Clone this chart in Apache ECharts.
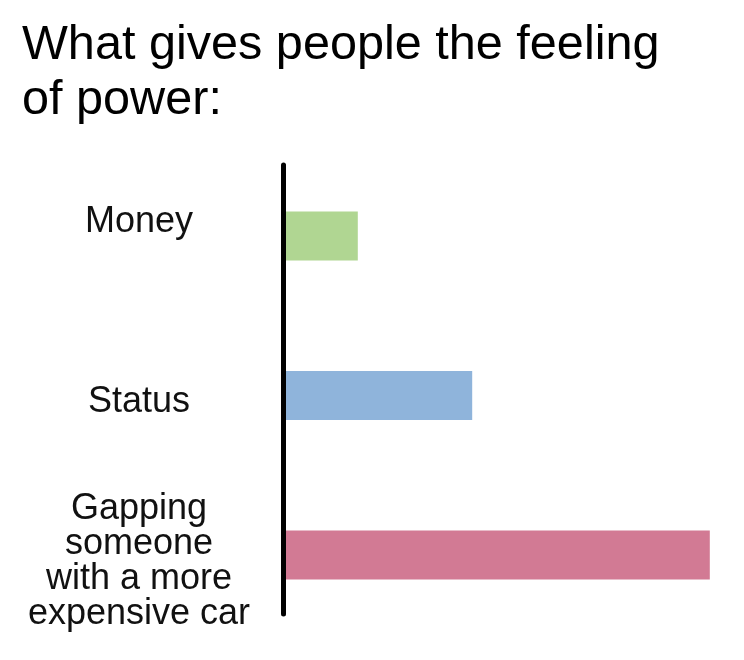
<!DOCTYPE html>
<html>
<head>
<meta charset="utf-8">
<style>html,body{margin:0;padding:0;background:#fff;}#c{width:744px;height:660px;}</style>
<script src="https://cdn.jsdelivr.net/npm/echarts@6/dist/echarts.min.js"></script>
</head>
<body>
<div id="c"></div>
<script>
const titleText = 'What gives people the feeling\nof power:';
const categories = ['Money', 'Status', 'Gapping\nsomeone\nwith a more\nexpensive car'];
const values = [17, 43, 97];
const colors = ['#b0d692', '#8fb4db', '#d27a94'];

const chart = echarts.init(document.getElementById('c'), null, {renderer: 'canvas'});
const lbl = {fontFamily: 'Liberation Sans', fontSize: 36, lineHeight: 35, color: '#111'};
chart.setOption({
  backgroundColor: '#fff',
  animation: false,
  title: {
    text: titleText,
    left: 22, top: 18, padding: 0,
    textStyle: {fontFamily: 'Liberation Sans', fontSize: 48.6, lineHeight: 55, fontWeight: 'normal', color: '#000'}
  },
  grid: [
    {left: 283, width: 440, top: 165, bottom: 46, outerBoundsMode: 'none'},
    {left: 283, width: 440, top: 236, bottom: 105, outerBoundsMode: 'none'}
  ],
  xAxis: [
    {gridIndex: 0, type: 'value', min: 0, max: 100, show: false},
    {gridIndex: 1, type: 'value', min: 0, max: 100, show: false}
  ],
  yAxis: [
    {gridIndex: 0, type: 'value', min: 0, max: 1, z: 10,
     axisLine: {show: true, lineStyle: {color: '#000', width: 5}},
     axisTick: {show: false}, axisLabel: {show: false}, splitLine: {show: false}},
    {gridIndex: 1, type: 'category', inverse: true, boundaryGap: false, data: categories,
     axisLine: {show: false}, axisTick: {show: false}, splitLine: {show: false},
     axisLabel: Object.assign({
       margin: 144, align: 'center', padding: [14, 0, 0, 0],
       formatter: function (v) { return v === 'Money' ? '{up|' + v + '}' : v; },
       rich: {up: Object.assign({padding: [0, 0, 42, 0]}, lbl)}
     }, lbl)}
  ],
  series: [{
    type: 'bar', xAxisIndex: 1, yAxisIndex: 1, clip: false, barWidth: 49,
    data: values.map((v, i) => ({value: v, itemStyle: {color: colors[i]}}))
  }]
});
</script>
</body>
</html>
